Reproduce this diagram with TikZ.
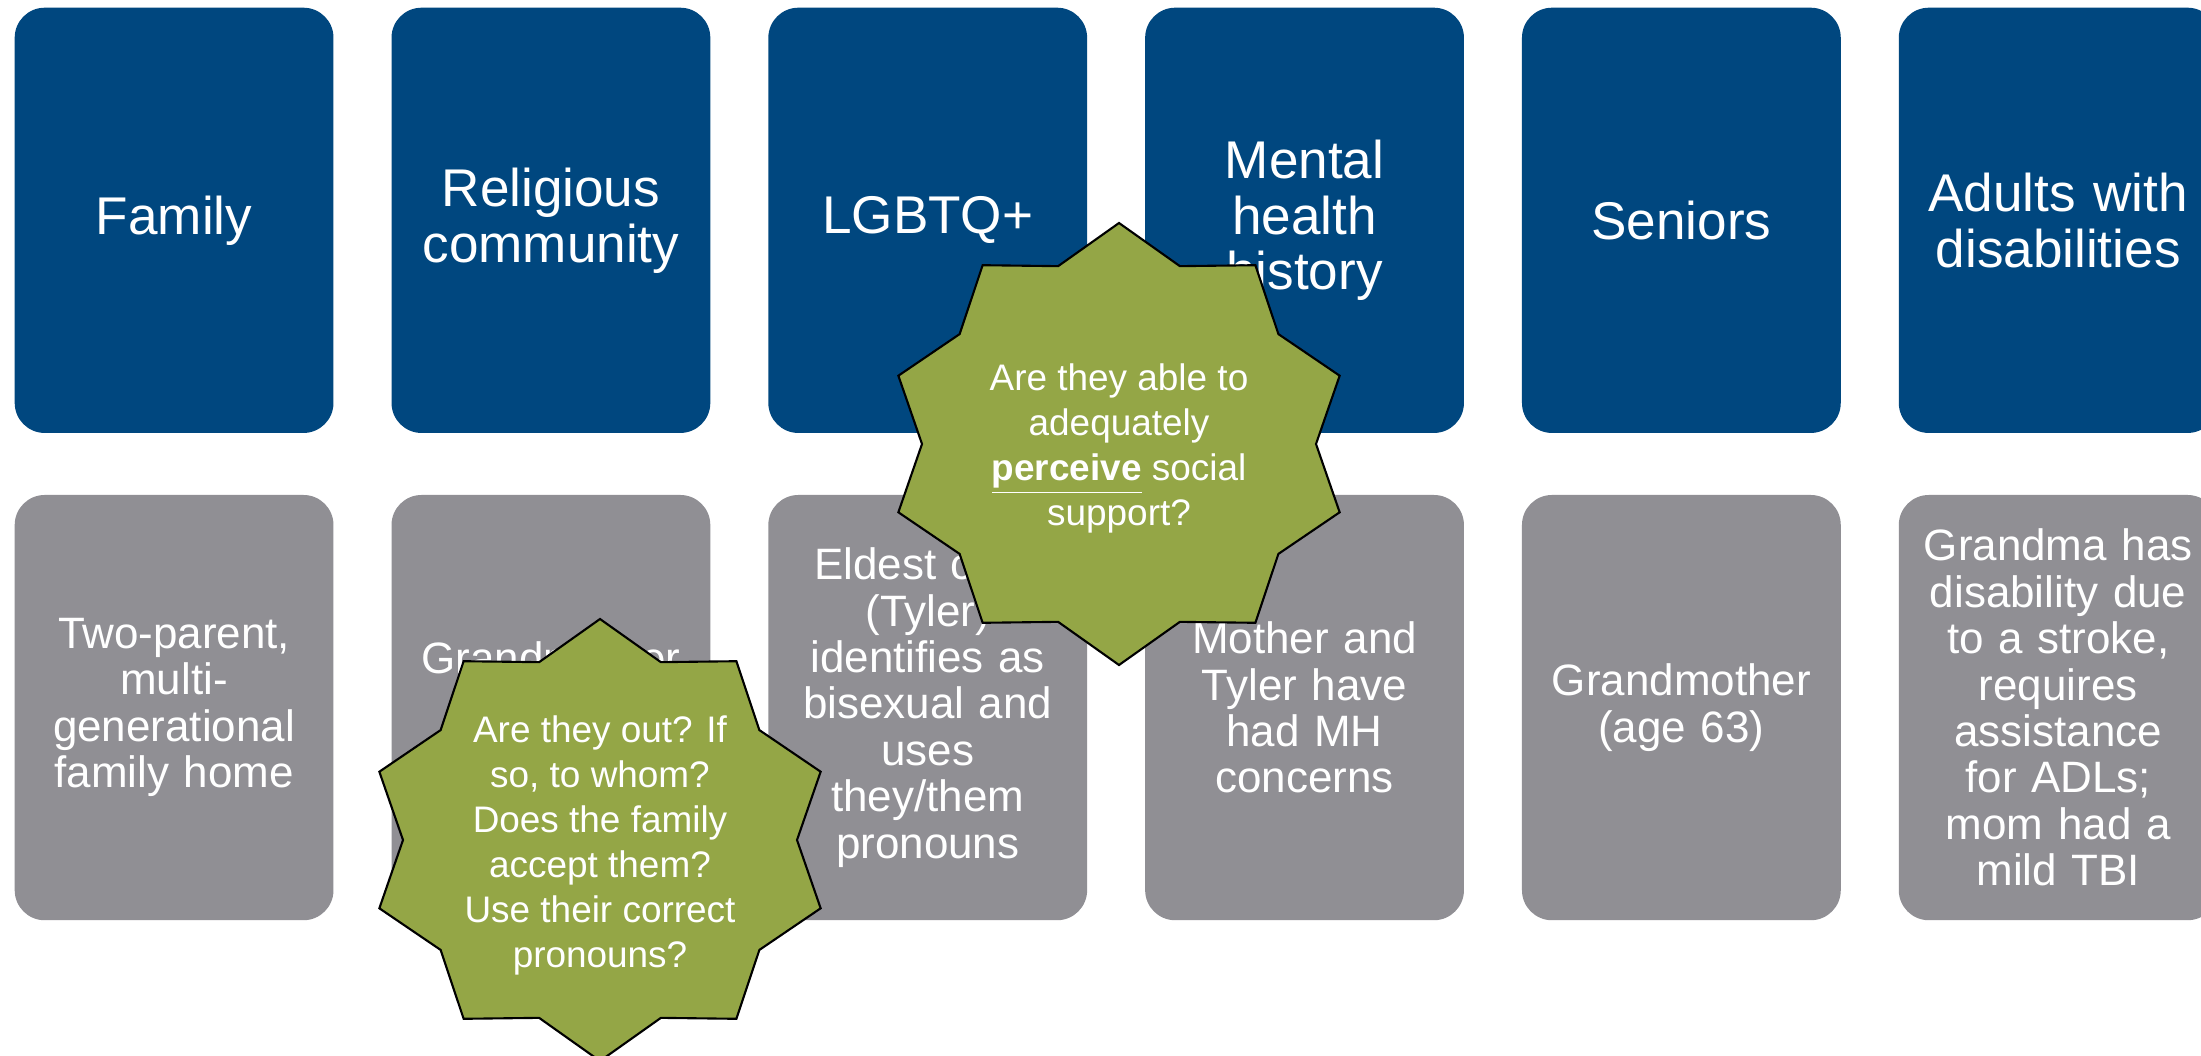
\documentclass[tikz,border=0pt]{standalone}
\usepackage{fontspec}
\setmainfont{Liberation Sans}
\usetikzlibrary{matrix}

\definecolor{groupblue}{RGB}{0,71,127}
\definecolor{casegray}{RGB}{144,143,148}
\definecolor{burstgreen}{RGB}{148,166,70}

\begin{document}
\begin{tikzpicture}[x=0.01cm,y=-0.01cm,
    group/.style={fill=groupblue,text=white,rounded corners=0.3cm,
      minimum width=3.186cm,minimum height=4.25cm,text width=3.0cm,
      align=center,inner sep=0pt,outer sep=0pt,anchor=center,
      font=\fontsize{15.1}{15.9}\selectfont},
    case/.style={group,fill=casegray,font=\fontsize{12.5}{13.2}\selectfont},
    burst/.style={fill=burstgreen,draw=black,line width=0.6pt},
    question/.style={text=white,align=center,inner sep=0pt,
      font=\fontsize{10.5}{12.8}\selectfont}]
\path[use as bounding box,fill=white] (0,0) rectangle (2201,1055);
\clip (0,0) rectangle (2201,1055);
\matrix (grid) [matrix of nodes, anchor=north west, inner sep=0pt,
    row sep=0.62cm, column sep=0.58cm,
    row 1/.style={nodes=group}, row 2/.style={nodes=case}] at (14,7)
  { Family & {Religious\\community} & LGBTQ+ & {Mental\\health\\history} & Seniors & {Adults with\\disabilities} \\
    {Two-parent,\\multi-\\generational\\family home} & |[text height=0.32cm,text depth=1cm]| Grandmother
    & {Eldest child\\(Tyler)\\identifies as\\bisexual and\\uses\\they/them\\pronouns}
    & {Mother and\\Tyler have\\had MH\\concerns} & {Grandmother\\(age 63)}
    & {Grandma has\\disability due\\to a stroke,\\requires\\assistance\\for ADLs;\\mom had a\\mild TBI} \\ };
% the two question bursts
\coordinate (outc) at (600,840);
\coordinate (seec) at (1119,444);
\foreach \c in {outc,seec}
  \draw[burst,shift={(\c)}] plot[samples at={0,...,19},variable=\k]
    ({(232-35*mod(\k,2))*cos(90+18*\k)},{(221-34*mod(\k,2))*sin(90+18*\k)}) -- cycle;
\node[question] (outq) at (600,845) {Are they out? If\\so, to whom?\\Does the family\\accept them?\\Use their correct\\pronouns?};
\node[question] (seeq) at (1119,448) {Are they able to\\adequately\\\underline{\textbf{perceive}} social\\support?};
\end{tikzpicture}
\end{document}
